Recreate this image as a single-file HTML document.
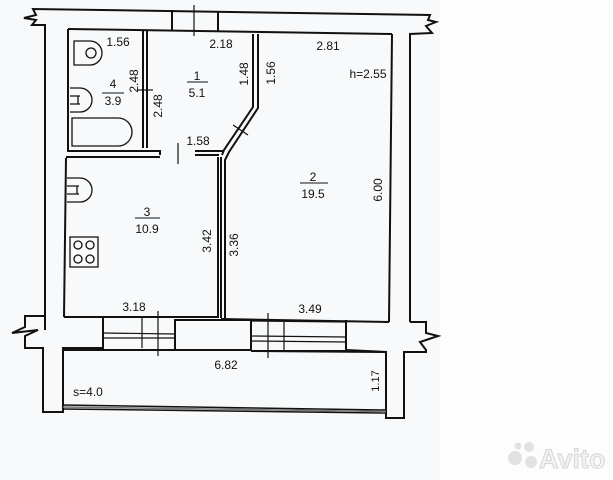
<!DOCTYPE html>
<html><head><meta charset="utf-8"><style>
html,body{margin:0;padding:0;background:#fff;}
svg{display:block;}
text{font-family:"Liberation Sans",sans-serif;font-size:12px;fill:#111;}
</style></head><body>
<svg width="613" height="480" viewBox="0 0 613 480" xmlns="http://www.w3.org/2000/svg">
<rect x="0" y="0" width="440" height="480" fill="#f8f9fa"/>
<rect x="440" y="0" width="173" height="480" fill="#fdfdfd"/>
<g fill="none" stroke="#111" stroke-width="2" stroke-linejoin="miter">
<polyline points="45,330 45,25 32,25 36,20 24,18 36,15 33,9 430,15 428,20 436,22 426,26 432,33 410,34 410,322"/>
<line x1="68" y1="29" x2="392" y2="34"/>
<line x1="172" y1="10" x2="172" y2="30"/><line x1="218" y1="11" x2="218" y2="31"/>
<line x1="194" y1="5" x2="194" y2="36" stroke-width="1.2"/>
<line x1="68" y1="29" x2="68" y2="152"/>
<line x1="66" y1="158" x2="64" y2="317"/>
<line x1="143" y1="31" x2="143" y2="148"/><line x1="147" y1="31" x2="147" y2="148"/>
<line x1="137" y1="90" x2="153" y2="90" stroke-width="1.2"/>
<polyline points="68,151 160,151 160,155"/>
<line x1="66" y1="157" x2="160" y2="157"/>
<line x1="195" y1="151" x2="224" y2="151"/>
<line x1="195" y1="155" x2="219" y2="155"/>
<line x1="178" y1="143" x2="178" y2="164" stroke-width="1.2"/>
<polyline points="253,34 253,107 224,150 222,155"/>
<polyline points="258,34 258,108 229,152 225,160 225,320"/>
<line x1="218" y1="157" x2="218" y2="318"/>
<line x1="221" y1="157" x2="221" y2="318"/>
<line x1="233" y1="125" x2="248" y2="135" stroke-width="1.2"/>
<line x1="392" y1="34" x2="389" y2="322"/>
<line x1="64" y1="317" x2="218" y2="317"/>
<line x1="221" y1="319" x2="389" y2="322"/>
<polyline points="45,316 25,316 25,327 12,333 38,330 25,336 25,348 43,348 43,412 63,412 63,348 103,348 103,317"/>
<polyline points="410,322 426,322 426,333 438,336 420,342 426,350 426,352 404,352 404,418 386,418 386,352 346,350 346,320"/>
<line x1="103" y1="317" x2="103" y2="348"/>
<line x1="175" y1="319" x2="175" y2="349"/>
<line x1="103" y1="333" x2="175" y2="334" stroke-width="1.2"/>
<line x1="103" y1="338" x2="175" y2="338" stroke-width="1.2"/>
<line x1="142" y1="318" x2="142" y2="348" stroke-width="1.2"/>
<line x1="158" y1="311" x2="158" y2="356" stroke-width="1.2"/>
<rect x="175" y="320" width="76" height="30"/>
<line x1="251" y1="321" x2="346" y2="322" stroke-width="1.2"/>
<line x1="251" y1="336" x2="346" y2="337" stroke-width="1.2"/>
<line x1="251" y1="341" x2="346" y2="342" stroke-width="1.2"/>
<line x1="251" y1="351" x2="346" y2="351"/>
<line x1="284" y1="322" x2="284" y2="352" stroke-width="1.2"/>
<line x1="268" y1="313" x2="268" y2="358" stroke-width="1.2"/>
<line x1="63" y1="350" x2="175" y2="350"/>
<line x1="251" y1="351" x2="386" y2="352"/>
<line x1="63" y1="405" x2="386" y2="410" stroke-width="1.5"/>
<line x1="63" y1="409" x2="386" y2="413" stroke-width="1.5"/>
<line x1="63" y1="407" x2="386" y2="411.5" stroke="#777" stroke-width="1.5"/>
</g>
<g fill="none" stroke="#111" stroke-width="1.3">
<path d="M74,41 L90,41 A12,12 0 0 1 90,65 L74,65 Z"/>
<circle cx="91" cy="53" r="5"/>
<path d="M70,88 L80,88 A12,12 0 0 1 80,112 L70,112"/>
<path d="M70,96 L80,96 M70,104 L80,104 M78,96 L78,104"/>
<path d="M72,118 L118,118 A14,14 0 0 1 118,146 L72,146 Z"/>
<path d="M67,178 L80,178 A12,12 0 0 1 80,202 L67,202"/>
<path d="M67,186 L79,186 M67,194 L79,194 M77,186 L77,194"/>
<rect x="70" y="237" width="28" height="30"/>
<circle cx="78" cy="245" r="4"/><circle cx="90" cy="245" r="4"/>
<circle cx="78" cy="259" r="4"/><circle cx="90" cy="259" r="4"/>
</g>
<g stroke="#111" stroke-width="1">
<line x1="102" y1="93" x2="124" y2="93"/>
<line x1="187" y1="82" x2="208" y2="82"/>
<line x1="300" y1="183" x2="328" y2="183"/>
<line x1="135" y1="218" x2="160" y2="218"/>
</g>
<g style="font-size:13px">
<text x="118" y="46" text-anchor="middle">1.56</text>
<text x="113" y="88" text-anchor="middle">4</text>
<text x="113" y="105" text-anchor="middle">3.9</text>
<text transform="translate(138,81) rotate(-90)" text-anchor="middle">2.48</text>
<text transform="translate(162,106) rotate(-90)" text-anchor="middle">2.48</text>
<text x="221" y="48" text-anchor="middle">2.18</text>
<text x="197" y="80" text-anchor="middle">1</text>
<text x="197" y="97" text-anchor="middle">5.1</text>
<text transform="translate(248,74) rotate(-90)" text-anchor="middle">1.48</text>
<text transform="translate(275,73) rotate(-90)" text-anchor="middle">1.56</text>
<text x="198" y="145" text-anchor="middle">1.58</text>
<text x="328" y="50" text-anchor="middle">2.81</text>
<text x="368" y="78" text-anchor="middle">h=2.55</text>
<text x="313" y="181" text-anchor="middle">2</text>
<text x="313" y="198" text-anchor="middle">19.5</text>
<text transform="translate(382,190) rotate(-90)" text-anchor="middle">6.00</text>
<text x="147" y="216" text-anchor="middle">3</text>
<text x="147" y="233" text-anchor="middle">10.9</text>
<text transform="translate(211,241) rotate(-90)" text-anchor="middle">3.42</text>
<text transform="translate(238,245) rotate(-90)" text-anchor="middle">3.36</text>
<text x="134" y="311" text-anchor="middle">3.18</text>
<text x="310" y="313" text-anchor="middle">3.49</text>
<text x="226" y="369" text-anchor="middle">6.82</text>
<text x="88" y="396" text-anchor="middle">s=4.0</text>
<text transform="translate(379,381) rotate(-90)" text-anchor="middle" style="font-size:11px">1.17</text>
</g>
<g fill="#e2e2e2">
<circle cx="515" cy="458" r="7"/><circle cx="529" cy="447" r="5"/><circle cx="531" cy="462" r="6"/><circle cx="518" cy="446" r="3.5"/>
</g>
<text x="539" y="468" style="font-size:27px;font-weight:bold;fill:#f2f2f2;stroke:#d6d6d6;stroke-width:1">Avito</text>
</svg>
</body></html>
